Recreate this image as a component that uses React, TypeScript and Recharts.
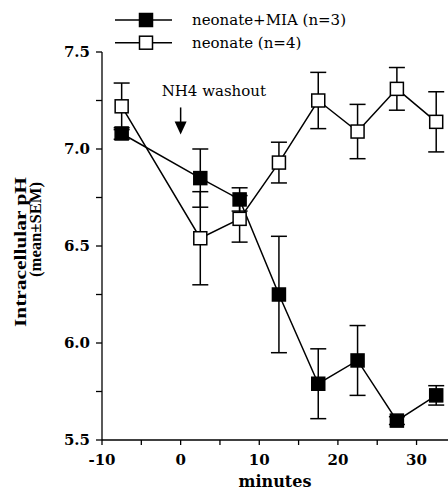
import { LineChart, Line, XAxis, YAxis, ErrorBar, ReferenceDot } from "recharts";

// time after NH4 prepulse, minutes
const minutes = [-7.5, 2.5, 7.5, 12.5, 17.5, 22.5, 27.5, 32.5];
// neonate + MIA
const miaPH = [7.08, 6.85, 6.74, 6.25, 5.79, 5.91, 5.6, 5.73];
const miaSEM = [0.03, 0.15, 0.06, 0.3, 0.18, 0.18, 0.02, 0.05];
// neonate
const neonatePH = [7.22, 6.54, 6.64, 6.93, 7.25, 7.09, 7.31, 7.14];
const neonateSEM = [0.12, 0.24, 0.12, 0.105, 0.145, 0.14, 0.11, 0.155];

const xTicks = [-10, -5, 0, 5, 10, 15, 20, 25, 30];
const yTicks = [5.5, 5.75, 6, 6.25, 6.5, 6.75, 7, 7.25, 7.5];

const SERIES = [
  { key: "mia", err: "miaErr", name: "neonate+MIA (n=3)", fill: "#000" },
  { key: "neo", err: "neoErr", name: "neonate (n=4)", fill: "#fff" },
];

const SERIF = '"DejaVu Serif", "Liberation Serif", serif';
const TIMES = '"Liberation Serif", "Times New Roman", serif';

const data = minutes.map((m, i) => ({
  x: m,
  mia: miaPH[i],
  miaErr: miaSEM[i],
  neo: neonatePH[i],
  neoErr: neonateSEM[i],
}));

function squareDot(fill: string) {
  return (props: any) => {
    const { cx, cy, index } = props;
    if (cx == null || cy == null) return <g key={`d-${index}`} />;
    return (
      <rect
        key={`d-${fill}-${index}`}
        x={cx - 6.5}
        y={cy - 6.5}
        width={13}
        height={13}
        fill={fill}
        stroke="#000"
        strokeWidth={1.5}
      />
    );
  };
}

// arrow + "NH4 washout" text, anchored at the arrow tip
function WashoutArrow(props: any) {
  const { cx, cy } = props;
  return (
    <g>
      <text x={cx - 19} y={cy - 38} fontFamily={SERIF} fontSize={15} fill="#000">
        NH4 washout
      </text>
      <line x1={cx} x2={cx} y1={cy - 27} y2={cy - 10} stroke="#000" strokeWidth={1.5} />
      <polygon points={`${cx - 6},${cy - 13} ${cx + 6},${cy - 13} ${cx},${cy}`} fill="#000" />
    </g>
  );
}

function YLabel() {
  return (
    <g fontFamily={TIMES} fontWeight="bold" fill="#000">
      <text
        x={26}
        y={327}
        textAnchor="start"
        fontSize={17}
        textLength={150}
        lengthAdjust="spacingAndGlyphs"
        transform="rotate(-90 26 327)"
      >
        Intracellular pH
      </text>
      <text
        x={41}
        y={277}
        textAnchor="start"
        fontSize={16.5}
        textLength={95}
        lengthAdjust="spacingAndGlyphs"
        transform="rotate(-90 41 277)"
      >
        (mean±SEM)
      </text>
    </g>
  );
}

function LegendBox() {
  return (
    <svg
      width={280}
      height={56}
      style={{ position: "absolute", left: 115, top: 10, display: "block" }}
    >
      {SERIES.map((s, i) => {
        const cy = 10 + i * 22.7;
        return (
          <g key={s.key}>
            <line x1={0} x2={57} y1={cy} y2={cy} stroke="#000" strokeWidth={1.5} />
            <rect x={24.5} y={cy - 6.5} width={13} height={13} fill={s.fill} stroke="#000" strokeWidth={1.5} />
            <text x={77} y={cy + 5} fontFamily={SERIF} fontSize={15} fill="#000">
              {s.name}
            </text>
          </g>
        );
      })}
    </svg>
  );
}

export default function App() {
  const tickStyle = { fontFamily: SERIF, fontWeight: "bold", fontSize: 15, fill: "#000" };
  return (
    <div style={{ position: "absolute", left: 0, top: 0, width: 448, height: 490, background: "#fff" }}>
      <LineChart width={448} height={490} data={data} margin={{ top: 52, right: 0, bottom: 0, left: 0 }}>
        <XAxis
          type="number"
          dataKey="x"
          domain={[-10, 34]}
          ticks={xTicks}
          interval={0}
          tickFormatter={(v) => (v % 10 === 0 ? String(v) : "")}
          height={50}
          tick={tickStyle}
          tickSize={5}
          tickMargin={9}
          axisLine={{ stroke: "#000", strokeWidth: 1.3 }}
          tickLine={{ stroke: "#000", strokeWidth: 1.3 }}
          label={{
            value: "minutes",
            position: "insideBottom",
            offset: 3,
            style: { fontFamily: SERIF, fontWeight: "bold", fontSize: 16, fill: "#000" },
          }}
        />
        <YAxis
          type="number"
          domain={[5.5, 7.5]}
          ticks={yTicks}
          interval={0}
          tickFormatter={(v) => (Math.abs(v * 2 - Math.round(v * 2)) < 1e-9 ? v.toFixed(1) : "")}
          width={102}
          tick={tickStyle}
          tickSize={6}
          tickMargin={6}
          axisLine={{ stroke: "#000", strokeWidth: 1.3 }}
          tickLine={{ stroke: "#000", strokeWidth: 1.3 }}
          label={{ content: () => <YLabel /> }}
        />
        <ReferenceDot x={0} y={7.075} r={0} shape={(p: any) => <WashoutArrow {...p} />} />
        <Line
          type="linear"
          dataKey="mia"
          name={SERIES[0].name}
          stroke="#000"
          strokeWidth={1.5}
          dot={squareDot(SERIES[0].fill)}
          activeDot={false}
          isAnimationActive={false}
        >
          <ErrorBar dataKey="miaErr" width={8} stroke="#000" strokeWidth={1.5} direction="y" isAnimationActive={false} />
        </Line>
        <Line
          type="linear"
          dataKey="neo"
          name={SERIES[1].name}
          stroke="#000"
          strokeWidth={1.5}
          dot={squareDot(SERIES[1].fill)}
          activeDot={false}
          isAnimationActive={false}
        >
          <ErrorBar dataKey="neoErr" width={8} stroke="#000" strokeWidth={1.5} direction="y" isAnimationActive={false} />
        </Line>
      </LineChart>
      <LegendBox />
    </div>
  );
}
